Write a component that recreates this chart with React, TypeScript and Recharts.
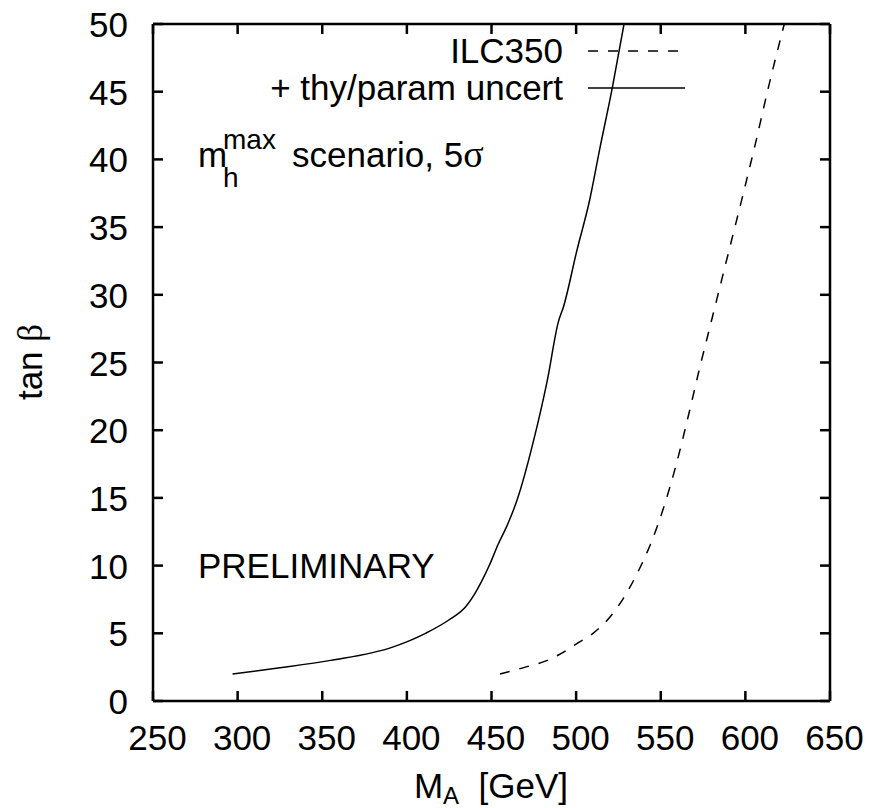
import React from 'react';
import { LineChart, Line, XAxis, YAxis, Legend, Customized } from 'recharts';

const xTicks = [250, 300, 350, 400, 450, 500, 550, 600, 650];
const yTicks = [0, 5, 10, 15, 20, 25, 30, 35, 40, 45, 50];

const ilc350X = [455, 470, 483, 491, 500, 510, 520, 528, 536, 544, 552, 559, 566, 573, 580, 586, 592, 599, 606, 613, 623];
const ilc350Y = [2, 2.5, 3, 3.5, 4.2, 5, 6.2, 7.6, 9.4, 11.6, 14.4, 17.4, 20.9, 24.6, 28.1, 31.1, 34.1, 37.6, 41.2, 45, 50];

const uncertX = [297, 325, 355, 392, 411, 425, 435, 440, 444, 449, 454, 459, 465, 475, 483, 489.5, 492.5, 500.5, 508, 514, 521.4, 528.3];
const uncertY = [2, 2.45, 3, 4, 5, 6, 7, 7.9, 8.8, 10.1, 11.6, 12.9, 14.8, 19.3, 23.7, 28, 29.1, 33.3, 37, 40.8, 45.3, 50];

const ilc350 = ilc350X.map((x, i) => ({ x, y: ilc350Y[i] }));
const uncert = uncertX.map((x, i) => ({ x, y: uncertY[i] }));

const series = [
  { name: 'ILC350', data: ilc350, dash: '10 10' },
  { name: '+ thy/param uncert', data: uncert, dash: undefined as string | undefined },
];

const FONT = '"Liberation Sans", Arial, Helvetica, sans-serif';
const SERIF = '"Liberation Serif", "Times New Roman", serif';
const FS = 35;
const AX = 2.5;

const BottomTick = (p: any) => (
  <g>
    <line x1={p.x} y1={p.y} x2={p.x} y2={p.y - 10} stroke="#000" strokeWidth={AX} />
    <text x={p.x + 4.5} y={p.y + 49} textAnchor="middle" fontSize={FS} fontFamily={FONT} fill="#000">
      {p.payload.value}
    </text>
  </g>
);
const TopTick = (p: any) => (
  <line x1={p.x} y1={p.y} x2={p.x} y2={p.y + 10} stroke="#000" strokeWidth={AX} />
);
const LeftTick = (p: any) => (
  <g>
    <line x1={p.x} y1={p.y} x2={p.x + 10} y2={p.y} stroke="#000" strokeWidth={AX} />
    <text x={p.x - 25} y={p.y + 13} textAnchor="end" fontSize={FS} fontFamily={FONT} fill="#000">
      {p.payload.value}
    </text>
  </g>
);
const RightTick = (p: any) => (
  <line x1={p.x} y1={p.y} x2={p.x - 10} y2={p.y} stroke="#000" strokeWidth={AX} />
);

const Annotations = () => (
  <g fontFamily={FONT} fill="#000">
    <text transform="translate(42,362) rotate(-90)" textAnchor="middle" fontSize={FS}>
      tan <tspan fontFamily={SERIF}>β</tspan>
    </text>
    <text x={491} y={798} textAnchor="middle" fontSize={FS}>
      M<tspan fontSize={24} dy={6}>A</tspan>
      <tspan dy={-6}>{'\u00a0\u00a0[GeV]'}</tspan>
    </text>
    <text fontSize={FS}>
      <tspan x={198} y={167}>m</tspan>
      <tspan x={223} y={187} fontSize={28}>h</tspan>
      <tspan x={223} y={149} fontSize={28}>max</tspan>
      <tspan x={292} y={167}>scenario, 5</tspan>
      <tspan fontFamily={SERIF} fontSize={38}>σ</tspan>
    </text>
    <text x={198} y={578} fontSize={FS}>PRELIMINARY</text>
  </g>
);

const LegendBox = () => (
  <svg width={871} height={120} style={{ display: 'block' }}>
    {series.map((s, i) => {
      const cy = i === 0 ? 51 : 88;
      return (
        <g key={s.name}>
          <text x={563} y={cy + 12} textAnchor="end" fontSize={FS} fontFamily={FONT} fill="#000">
            {s.name}
          </text>
          <line x1={588} x2={i === 0 ? 680 : 685} y1={cy} y2={cy} stroke="#000" strokeWidth={1.5} strokeDasharray={s.dash} />
        </g>
      );
    })}
  </svg>
);

export default function App() {
  return (
    <div style={{ position: 'absolute', left: 0, top: 0, background: '#fff' }}>
      <LineChart width={871} height={808} margin={{ top: 23, right: 40, bottom: 106, left: 152 }}>
        <XAxis
          xAxisId="b"
          dataKey="x"
          type="number"
          domain={[250, 650]}
          ticks={xTicks}
          interval={0}
          allowDataOverflow
          height={1}
          tickSize={0}
          tickMargin={0}
          tickLine={false}
          axisLine={{ stroke: '#000', strokeWidth: AX }}
          tick={(p: any) => <BottomTick {...p} />}
        />
        <XAxis
          xAxisId="t"
          orientation="top"
          dataKey="x"
          type="number"
          domain={[250, 650]}
          ticks={xTicks}
          interval={0}
          allowDataOverflow
          height={1}
          tickSize={0}
          tickMargin={0}
          tickLine={false}
          axisLine={{ stroke: '#000', strokeWidth: AX }}
          tick={(p: any) => <TopTick {...p} />}
        />
        <YAxis
          yAxisId="l"
          type="number"
          domain={[0, 50]}
          ticks={yTicks}
          interval={0}
          allowDataOverflow
          width={1}
          tickSize={0}
          tickMargin={0}
          tickLine={false}
          axisLine={{ stroke: '#000', strokeWidth: AX }}
          tick={(p: any) => <LeftTick {...p} />}
        />
        <YAxis
          yAxisId="r"
          orientation="right"
          type="number"
          domain={[0, 50]}
          ticks={yTicks}
          interval={0}
          allowDataOverflow
          width={1}
          tickSize={0}
          tickMargin={0}
          tickLine={false}
          axisLine={{ stroke: '#000', strokeWidth: AX }}
          tick={(p: any) => <RightTick {...p} />}
        />
        {series.map((s) => (
          <Line
            key={s.name}
            name={s.name}
            xAxisId="b"
            yAxisId="l"
            data={s.data}
            dataKey="y"
            type="monotone"
            stroke="#000"
            strokeWidth={1.5}
            strokeDasharray={s.dash}
            dot={false}
            activeDot={false}
            isAnimationActive={false}
          />
        ))}
        <Legend
          layout="horizontal"
          verticalAlign="middle"
          align="center"
          wrapperStyle={{ position: 'absolute', left: 0, top: 0, width: 871, height: 120 }}
          content={() => <LegendBox />}
        />
        <Customized component={Annotations} />
      </LineChart>
    </div>
  );
}
